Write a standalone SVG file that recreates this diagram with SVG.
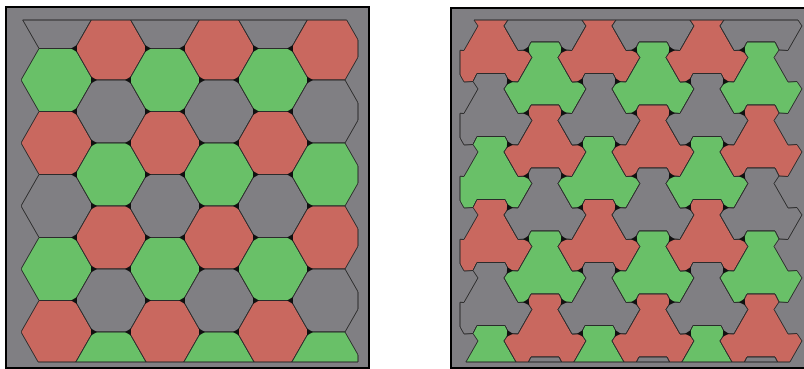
<svg xmlns="http://www.w3.org/2000/svg" width="804" height="369" viewBox="0 0 804 369">
<defs>
<style>
.r{fill:#C9685F}.g{fill:#69C068}.k{fill:#807F83}
.t{stroke:#2b2b2b;stroke-width:1;stroke-linejoin:round}
.edge{fill:none;stroke:#2b2b2b;stroke-width:1}
.j{fill:#111}
.panel{fill:#807F83;stroke:#000;stroke-width:2}
</style>
<polygon id="hex" points="-36,0 -18,-31.5 18,-31.5 36,0 18,31.5 -18,31.5"/>
<path id="tri" d="M-36,0L-27.07,0.5L-13.04,-24.06L-18,-31.5L-14,-39.5L14,-39.5L18,-31.5L13.04,-24.06L27.07,0.5L36,0L40.96,7.44L26.93,32L18,31.5L14,23.5L-14,23.5L-18,31.5L-26.93,32L-40.96,7.44Z"/>
<polygon id="jl" points="1.99,-3.46 1.99,3.46 -4,0"/>
<polygon id="jr" points="-1.99,-3.46 -1.99,3.46 4,0"/>
<polygon id="jl2" points="3.99,0.23 -2.21,3.33 -1.79,-3.57"/>
<polygon id="jr2" points="-3.99,0.23 2.21,3.33 1.79,-3.57"/>
<g id="colLo"><use href="#hex" class="k" y="17"/><use href="#hex" class="g" y="80"/><use href="#hex" class="r" y="143"/><use href="#hex" class="k" y="206"/><use href="#hex" class="g" y="269"/><use href="#hex" class="r" y="332"/></g>
<g id="colLe"><use href="#hex" class="r" y="48.5"/><use href="#hex" class="k" y="111.5"/><use href="#hex" class="g" y="174.5"/><use href="#hex" class="r" y="237.5"/><use href="#hex" class="k" y="300.5"/><use href="#hex" class="g" y="363.5"/></g>
<g id="colRo"><use href="#tri" class="r" y="50"/><use href="#tri" class="k" y="113"/><use href="#tri" class="g" y="176"/><use href="#tri" class="r" y="239"/><use href="#tri" class="k" y="302"/><use href="#tri" class="g" y="365"/></g>
<g id="colRe"><use href="#tri" class="k" y="18.5"/><use href="#tri" class="g" y="81.5"/><use href="#tri" class="r" y="144.5"/><use href="#tri" class="k" y="207.5"/><use href="#tri" class="g" y="270.5"/><use href="#tri" class="r" y="333.5"/><use href="#tri" class="k" y="396.5"/></g>
<g id="cjl"><use href="#jl"/><use href="#jl" y="63"/><use href="#jl" y="126"/><use href="#jl" y="189"/><use href="#jl" y="252"/></g>
<g id="cjr"><use href="#jr"/><use href="#jr" y="63"/><use href="#jr" y="126"/><use href="#jr" y="189"/><use href="#jr" y="252"/></g>
<g id="cjl2"><use href="#jl2"/><use href="#jl2" y="63"/><use href="#jl2" y="126"/><use href="#jl2" y="189"/><use href="#jl2" y="252"/></g>
<g id="cjr2"><use href="#jr2"/><use href="#jr2" y="63"/><use href="#jr2" y="126"/><use href="#jr2" y="189"/><use href="#jr2" y="252"/></g>
<clipPath id="clipL"><rect x="21" y="20" width="337" height="342"/></clipPath>
<clipPath id="clipR"><rect x="460" y="20" width="344" height="342"/></clipPath>
</defs>
<rect width="804" height="369" fill="#fff"/>
<g id="hexagon-panel">
<rect class="panel" x="6" y="7" width="363" height="361"/>
<g clip-path="url(#clipL)" class="t">
<use href="#colLo" x="57"/><use href="#colLe" x="111"/><use href="#colLo" x="165"/><use href="#colLe" x="219"/><use href="#colLo" x="273"/><use href="#colLe" x="327"/>
</g>
<path class="edge" d="M22.7,20H346.7M358,39.75V57.25M358,102.75V120.25M358,165.75V183.25M358,228.75V246.25M358,291.75V309.25M358,354.75V362M38.1,362H358"/>
<g class="j">
<use href="#cjl" x="75" y="48.5"/><use href="#cjl" x="183" y="48.5"/><use href="#cjl" x="291" y="48.5"/><use href="#cjl" x="129" y="80"/><use href="#cjl" x="237" y="80"/>
<use href="#cjr" x="93" y="80"/><use href="#cjr" x="201" y="80"/><use href="#cjr" x="309" y="80"/><use href="#cjr" x="147" y="48.5"/><use href="#cjr" x="255" y="48.5"/>
</g>
</g>
<g id="trilobe-panel">
<rect class="panel" x="451" y="8" width="362" height="360"/>
<g clip-path="url(#clipR)" class="t">
<use href="#colRo" x="491"/><use href="#colRe" x="545"/><use href="#colRo" x="599"/><use href="#colRe" x="653"/><use href="#colRo" x="707"/><use href="#colRe" x="761"/>
</g>
<path class="edge" d="M474,20H798M460,50.3V74.9M460,113.3V137.9M460,176.3V200.9M460,239.3V263.9M460,302.3V326.9M465.9,362H789.9"/>
<g class="j">
<use href="#cjl2" x="509" y="81.5"/><use href="#cjl2" x="617" y="81.5"/><use href="#cjl2" x="725" y="81.5"/><use href="#cjl2" x="563" y="50"/><use href="#cjl2" x="671" y="50"/>
<use href="#cjr2" x="527" y="50"/><use href="#cjr2" x="635" y="50"/><use href="#cjr2" x="743" y="50"/><use href="#cjr2" x="581" y="81.5"/><use href="#cjr2" x="689" y="81.5"/>
</g>
</g>
</svg>
